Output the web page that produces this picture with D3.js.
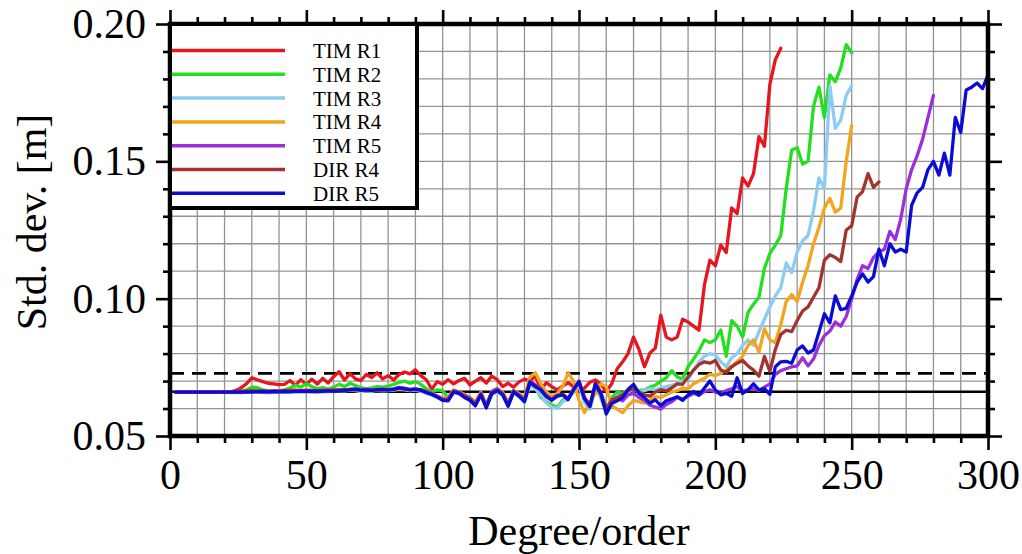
<!DOCTYPE html>
<html>
<head>
<meta charset="utf-8">
<script src="https://cdn.jsdelivr.net/npm/d3@7"></script>
<style>
  body { margin: 0; background: #fff; }
  svg { display: block; }
  text { font-family: "Liberation Serif", "Times New Roman", serif; fill: #000; }
</style>
</head>
<body>
<div id="chart"></div>
<script>
// degree/order runs 2, 4, 6 ... for every series
var firstDegree = 2, degreeStep = 2;

var seriesNames = ["TIM R1", "TIM R2", "TIM R3", "TIM R4", "TIM R5", "DIR R4", "DIR R5"];

var timR1 = [
  0.0660,0.0660,0.0660,0.0660,0.0660,0.0660,0.0660,0.0660,0.0660,0.0660,
  0.0660,0.0665,0.0675,0.0690,0.0712,0.0705,0.0698,0.0692,0.0690,0.0687,
  0.0688,0.0702,0.0684,0.0705,0.0687,0.0707,0.0689,0.0710,0.0693,0.0716,
  0.0734,0.0704,0.0727,0.0708,0.0702,0.0724,0.0713,0.0730,0.0708,0.0720,
  0.0704,0.0724,0.0733,0.0726,0.0741,0.0720,0.0705,0.0670,0.0698,0.0688,
  0.0705,0.0690,0.0702,0.0710,0.0686,0.0700,0.0712,0.0693,0.0718,0.0705,
  0.0680,0.0692,0.0678,0.0697,0.0707,0.0700,0.0718,0.0668,0.0694,0.0680,
  0.0668,0.0682,0.0694,0.0680,0.0668,0.0674,0.0696,0.0704,0.0690,0.0662,
  0.0690,0.0745,0.0770,0.0800,0.0860,0.0815,0.0752,0.0802,0.0820,0.0940,
  0.0860,0.0850,0.0860,0.0925,0.0915,0.0900,0.0885,0.1050,0.1140,0.1120,
  0.1195,0.1168,0.1330,0.1310,0.1440,0.1410,0.1455,0.1590,0.1555,0.1780,
  0.1870,0.1912
];
var timR2 = [
  0.0660,0.0660,0.0660,0.0660,0.0660,0.0660,0.0660,0.0660,0.0660,0.0660,
  0.0660,0.0661,0.0663,0.0668,0.0678,0.0676,0.0668,0.0665,0.0664,0.0665,
  0.0668,0.0675,0.0685,0.0678,0.0690,0.0680,0.0672,0.0676,0.0670,0.0678,
  0.0688,0.0680,0.0692,0.0684,0.0676,0.0672,0.0675,0.0680,0.0678,0.0682,
  0.0688,0.0695,0.0700,0.0692,0.0698,0.0688,0.0672,0.0660,0.0668,0.0665,
  0.0640,0.0665,0.0660,0.0650,0.0640,0.0622,0.0655,0.0612,0.0660,0.0672,
  0.0655,0.0618,0.0665,0.0648,0.0630,0.0690,0.0678,0.0640,0.0625,0.0612,
  0.0605,0.0630,0.0640,0.0665,0.0690,0.0625,0.0600,0.0680,0.0640,0.0590,
  0.0640,0.0660,0.0655,0.0668,0.0672,0.0665,0.0668,0.0678,0.0685,0.0700,
  0.0712,0.0738,0.0715,0.0708,0.0752,0.0780,0.0810,0.0850,0.0840,0.0850,
  0.0886,0.0790,0.0920,0.0900,0.0860,0.0950,0.0980,0.1005,0.1110,0.1165,
  0.1195,0.1230,0.1400,0.1540,0.1550,0.1490,0.1500,0.1700,0.1770,0.1660,
  0.1815,0.1790,0.1840,0.1925,0.1895
];
var timR3 = [
  0.0659,0.0659,0.0659,0.0659,0.0659,0.0659,0.0659,0.0659,0.0659,0.0659,
  0.0658,0.0659,0.0657,0.0660,0.0662,0.0660,0.0658,0.0657,0.0659,0.0660,
  0.0661,0.0663,0.0665,0.0662,0.0664,0.0661,0.0660,0.0662,0.0661,0.0663,
  0.0665,0.0664,0.0667,0.0665,0.0662,0.0664,0.0663,0.0666,0.0664,0.0665,
  0.0667,0.0670,0.0668,0.0665,0.0667,0.0662,0.0655,0.0648,0.0640,0.0632,
  0.0632,0.0662,0.0652,0.0645,0.0628,0.0615,0.0648,0.0605,0.0650,0.0662,
  0.0648,0.0612,0.0658,0.0642,0.0622,0.0685,0.0672,0.0648,0.0620,0.0605,
  0.0600,0.0625,0.0635,0.0660,0.0685,0.0620,0.0598,0.0675,0.0645,0.0592,
  0.0628,0.0645,0.0650,0.0660,0.0670,0.0660,0.0665,0.0672,0.0668,0.0675,
  0.0680,0.0685,0.0690,0.0700,0.0705,0.0740,0.0770,0.0790,0.0800,0.0795,
  0.0770,0.0752,0.0785,0.0800,0.0830,0.0850,0.0830,0.0880,0.0925,0.0970,
  0.1010,0.1040,0.1130,0.1095,0.1170,0.1210,0.1230,0.1320,0.1440,0.1400,
  0.1775,0.1620,0.1650,0.1740,0.1775
];
var timR4 = [
  0.0660,0.0660,0.0660,0.0660,0.0660,0.0660,0.0660,0.0660,0.0660,0.0660,
  0.0660,0.0660,0.0661,0.0662,0.0664,0.0663,0.0662,0.0661,0.0662,0.0663,
  0.0664,0.0665,0.0666,0.0664,0.0666,0.0665,0.0664,0.0665,0.0666,0.0667,
  0.0668,0.0667,0.0669,0.0668,0.0666,0.0667,0.0666,0.0668,0.0667,0.0669,
  0.0670,0.0672,0.0671,0.0668,0.0670,0.0666,0.0660,0.0652,0.0645,0.0638,
  0.0640,0.0668,0.0660,0.0652,0.0638,0.0625,0.0660,0.0615,0.0662,0.0672,
  0.0660,0.0622,0.0665,0.0655,0.0640,0.0715,0.0730,0.0690,0.0660,0.0645,
  0.0655,0.0680,0.0730,0.0700,0.0630,0.0585,0.0620,0.0655,0.0690,0.0680,
  0.0610,0.0598,0.0585,0.0610,0.0630,0.0625,0.0620,0.0632,0.0643,0.0640,
  0.0650,0.0660,0.0665,0.0675,0.0672,0.0690,0.0700,0.0710,0.0725,0.0720,
  0.0728,0.0740,0.0755,0.0770,0.0790,0.0830,0.0850,0.0805,0.0890,0.0850,
  0.0840,0.0905,0.0990,0.1015,0.0990,0.1060,0.1120,0.1200,0.1260,0.1330,
  0.1365,0.1315,0.1330,0.1500,0.1630
];
var timR5 = [
  0.0661,0.0661,0.0661,0.0661,0.0661,0.0661,0.0661,0.0661,0.0661,0.0661,
  0.0661,0.0662,0.0661,0.0662,0.0663,0.0662,0.0663,0.0662,0.0663,0.0662,
  0.0663,0.0662,0.0663,0.0664,0.0663,0.0664,0.0663,0.0664,0.0665,0.0664,
  0.0666,0.0668,0.0670,0.0672,0.0669,0.0670,0.0668,0.0670,0.0671,0.0669,
  0.0672,0.0677,0.0674,0.0670,0.0672,0.0669,0.0662,0.0655,0.0645,0.0635,
  0.0635,0.0665,0.0660,0.0648,0.0638,0.0618,0.0655,0.0610,0.0662,0.0672,
  0.0655,0.0615,0.0665,0.0650,0.0632,0.0700,0.0685,0.0672,0.0648,0.0635,
  0.0648,0.0652,0.0636,0.0670,0.0695,0.0640,0.0612,0.0685,0.0650,0.0590,
  0.0632,0.0640,0.0628,0.0650,0.0655,0.0640,0.0630,0.0612,0.0605,0.0598,
  0.0615,0.0625,0.0640,0.0635,0.0645,0.0655,0.0650,0.0662,0.0668,0.0660,
  0.0655,0.0665,0.0672,0.0680,0.0665,0.0668,0.0672,0.0665,0.0678,0.0690,
  0.0725,0.0738,0.0745,0.0752,0.0755,0.0785,0.0755,0.0780,0.0830,0.0865,
  0.0882,0.0915,0.0900,0.0935,0.1000,0.1070,0.1120,0.1110,0.1150,0.1170,
  0.1180,0.1245,0.1215,0.1290,0.1400,0.1470,0.1520,0.1580,0.1660,0.1740
];
var dirR4 = [
  0.0660,0.0660,0.0660,0.0660,0.0660,0.0660,0.0660,0.0660,0.0660,0.0660,
  0.0660,0.0661,0.0662,0.0663,0.0665,0.0664,0.0663,0.0662,0.0663,0.0664,
  0.0665,0.0666,0.0667,0.0665,0.0667,0.0666,0.0665,0.0666,0.0667,0.0668,
  0.0669,0.0668,0.0670,0.0669,0.0667,0.0668,0.0667,0.0669,0.0668,0.0670,
  0.0671,0.0674,0.0672,0.0669,0.0671,0.0667,0.0660,0.0652,0.0643,0.0632,
  0.0632,0.0663,0.0658,0.0645,0.0635,0.0615,0.0652,0.0606,0.0658,0.0668,
  0.0652,0.0612,0.0662,0.0648,0.0628,0.0698,0.0682,0.0670,0.0645,0.0632,
  0.0646,0.0652,0.0635,0.0670,0.0700,0.0640,0.0610,0.0692,0.0660,0.0600,
  0.0630,0.0640,0.0650,0.0665,0.0672,0.0660,0.0650,0.0645,0.0660,0.0668,
  0.0665,0.0675,0.0690,0.0688,0.0715,0.0740,0.0760,0.0770,0.0765,0.0775,
  0.0740,0.0732,0.0752,0.0765,0.0775,0.0755,0.0740,0.0718,0.0790,0.0735,
  0.0815,0.0870,0.0885,0.0880,0.0920,0.0955,0.0970,0.1005,0.1040,0.1140,
  0.1160,0.1150,0.1135,0.1250,0.1265,0.1370,0.1390,0.1455,0.1405,0.1425
];
var dirR5 = [
  0.0660,0.0660,0.0660,0.0660,0.0660,0.0660,0.0660,0.0660,0.0660,0.0660,
  0.0660,0.0661,0.0660,0.0661,0.0660,0.0661,0.0662,0.0661,0.0662,0.0661,
  0.0662,0.0661,0.0662,0.0663,0.0662,0.0663,0.0662,0.0663,0.0664,0.0663,
  0.0664,0.0666,0.0668,0.0670,0.0667,0.0668,0.0666,0.0668,0.0669,0.0667,
  0.0670,0.0675,0.0672,0.0668,0.0670,0.0667,0.0658,0.0652,0.0642,0.0630,
  0.0628,0.0660,0.0655,0.0640,0.0630,0.0610,0.0650,0.0602,0.0655,0.0665,
  0.0650,0.0608,0.0660,0.0645,0.0625,0.0695,0.0680,0.0668,0.0643,0.0630,
  0.0645,0.0650,0.0632,0.0668,0.0698,0.0635,0.0607,0.0690,0.0655,0.0580,
  0.0618,0.0628,0.0640,0.0670,0.0688,0.0655,0.0640,0.0620,0.0632,0.0610,
  0.0628,0.0635,0.0643,0.0630,0.0650,0.0662,0.0648,0.0675,0.0700,0.0668,
  0.0650,0.0655,0.0645,0.0712,0.0655,0.0668,0.0690,0.0668,0.0672,0.0652,
  0.0752,0.0770,0.0772,0.0765,0.0813,0.0828,0.0802,0.0813,0.0878,0.0945,
  0.0912,0.1010,0.0960,0.0965,0.1010,0.1060,0.1090,0.1060,0.1080,0.1180,
  0.1120,0.1200,0.1170,0.1180,0.1170,0.1340,0.1385,0.1405,0.1470,0.1500,
  0.1450,0.1530,0.1450,0.1660,0.1605,0.1760,0.1770,0.1785,0.1765,0.1815
];

var seriesValues = [timR1, timR2, timR3, timR4, timR5, dirR4, dirR5];

var xTicks = [0, 50, 100, 150, 200, 250, 300];
var yTicks = [0.05, 0.10, 0.15, 0.20];
var refSolid = 0.0661, refDashed = 0.0728;

var colors = ["#e8141e", "#22e01e", "#8ccbf2", "#f2a51f", "#9b30d8", "#a2342f", "#0b0bd6"];

var svgW = 1022, svgH = 554,
    plotL = 170, plotR = 988, plotT = 24, plotB = 436;

var svg = d3.select("#chart").append("svg")
    .attr("width", svgW)
    .attr("height", svgH);

var x = d3.scaleLinear().domain([0, 300]).range([plotL, plotR]);
var y = d3.scaleLinear().domain([0.05, 0.20]).range([plotB, plotT]);

// grid
var grid = svg.append("g").attr("class", "grid")
    .attr("stroke", "#939393")
    .attr("stroke-width", 1.3);

grid.selectAll("line.v")
  .data(d3.range(10, 300, 10))
  .enter().append("line")
    .attr("class", "v")
    .attr("x1", x).attr("x2", x)
    .attr("y1", plotT).attr("y2", plotB);

grid.selectAll("line.h")
  .data(d3.range(6, 20).map(function(d){ return d / 100; }))
  .enter().append("line")
    .attr("class", "h")
    .attr("x1", plotL).attr("x2", plotR)
    .attr("y1", y).attr("y2", y);

// reference levels
svg.append("line")
    .attr("x1", plotL).attr("x2", plotR)
    .attr("y1", y(refSolid)).attr("y2", y(refSolid))
    .attr("stroke", "#000").attr("stroke-width", 2.4);

svg.append("line")
    .attr("x1", plotL).attr("x2", plotR)
    .attr("y1", y(refDashed)).attr("y2", y(refDashed))
    .attr("stroke", "#000").attr("stroke-width", 2.6)
    .attr("stroke-dasharray", "14,8");

// series
var line = d3.line()
    .x(function(d, i){ return x(firstDegree + i * degreeStep); })
    .y(function(d){ return y(d); });

svg.append("g").attr("class", "series")
  .selectAll("path")
  .data(seriesValues)
  .enter().append("path")
    .attr("d", line)
    .attr("fill", "none")
    .attr("stroke", function(d, i){ return colors[i]; })
    .attr("stroke-width", 3.3)
    .attr("stroke-linejoin", "round")
    .attr("stroke-linecap", "round");

// axes : minor + major ticks on all four sides
var xMinor = d3.range(0, 301, 10).filter(function(d){ return d % 50 != 0; });
var yMinor = d3.range(5, 21).map(function(d){ return d / 100; })
    .filter(function(d){ return Math.round(d * 100) % 5 != 0; });

function drawAxis(axis, pos, ticks, size, labels){
  var g = svg.append("g")
      .attr("transform", pos)
      .call(axis.tickValues(ticks).tickSize(size).tickSizeOuter(0)
        .tickFormat(labels ? labels : function(){ return ""; }));
  g.select(".domain").remove();
  g.selectAll(".tick line").attr("stroke", "#000").attr("stroke-width", 2.6);
  return g;
}

drawAxis(d3.axisBottom(x), "translate(0," + plotB + ")", xMinor, 7);
drawAxis(d3.axisTop(x), "translate(0," + plotT + ")", xMinor, 7);
drawAxis(d3.axisLeft(y), "translate(" + plotL + ",0)", yMinor, 7);
drawAxis(d3.axisRight(y), "translate(" + plotR + ",0)", yMinor, 7);

var xAx = drawAxis(d3.axisBottom(x).tickPadding(9), "translate(0," + plotB + ")", xTicks, 14, d3.format("d"));
drawAxis(d3.axisTop(x), "translate(0," + plotT + ")", xTicks, 14);
var yAx = drawAxis(d3.axisLeft(y).tickPadding(10), "translate(" + plotL + ",0)", yTicks, 14, d3.format(".2f"));
drawAxis(d3.axisRight(y), "translate(" + plotR + ",0)", yTicks, 14);

xAx.selectAll("text")
    .attr("font-family", "Liberation Serif, serif")
    .attr("font-size", 42)
    .attr("fill", "#000");
yAx.selectAll("text")
    .attr("font-family", "Liberation Serif, serif")
    .attr("font-size", 42)
    .attr("fill", "#000");

// frame
svg.append("rect")
    .attr("x", plotL).attr("y", plotT)
    .attr("width", plotR - plotL).attr("height", plotB - plotT)
    .attr("fill", "none")
    .attr("stroke", "#000")
    .attr("stroke-width", 4.5);

// axis titles
svg.append("text")
    .attr("x", (plotL + plotR) / 2)
    .attr("y", 545)
    .attr("text-anchor", "middle")
    .attr("font-size", 42)
    .text("Degree/order");

svg.append("text")
    .attr("transform", "translate(46," + 222 + ") rotate(-90)")
    .attr("text-anchor", "middle")
    .attr("font-size", 42)
    .text("Std. dev. [m]");

// legend
var legend = svg.append("g").attr("class", "legend");
legend.append("rect")
    .attr("x", plotL).attr("y", plotT)
    .attr("width", 247).attr("height", 184)
    .attr("fill", "#fff")
    .attr("stroke", "#000")
    .attr("stroke-width", 4);

var rows = legend.selectAll("g.row")
  .data(seriesNames)
  .enter().append("g")
    .attr("class", "row")
    .attr("transform", function(d, i){ return "translate(0," + (50.5 + i * 23.8) + ")"; });

rows.append("line")
    .attr("x1", plotL + 2).attr("x2", 285)
    .attr("stroke", function(d, i){ return colors[i]; })
    .attr("stroke-width", 3.5);

rows.append("text")
    .attr("x", 313)
    .attr("y", 7.5)
    .attr("font-size", 21)
    .text(function(d){ return d; });
</script>
</body>
</html>
